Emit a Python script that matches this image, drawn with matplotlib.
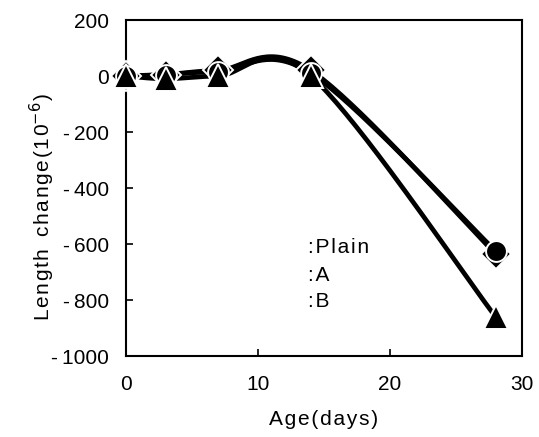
import numpy as np
import matplotlib
matplotlib.use("Agg")
import matplotlib.pyplot as plt

# Length change of specimens vs. age
age = [0, 3, 7, 14, 28]
plain = [0, 5, 20, 20, -635]
mix_a = [0, 5, 15, 10, -625]
mix_b = [0, -10, 0, 0, -860]

x_ticks = [0, 10, 20, 30]
y_ticks = [200, 0, -200, -400, -600, -800, -1000]
y_tick_labels = ['200', '0', '-\u2009200', '-\u2009400', '-\u2009600',
                 '-\u2009800', '-\u20091000']

legend_labels = [':Plain', ':A', ':B']
legend_y = [-611, -711, -807]

HAIR = '\u200a'


def spaced(s):
    # loose letter spacing
    return HAIR.join(s)


def smooth(xs, ys, n=40):
    # Bezier smoothing through the points (tension 1/6, like spreadsheet smoothed lines)
    p = np.column_stack([xs, ys]).astype(float)
    out = []
    for i in range(len(p) - 1):
        p0 = p[i]
        p3 = p[i + 1]
        prev = p[i - 1] if i > 0 else p[i]
        nxt = p[i + 2] if i + 2 < len(p) else p[i + 1]
        c1 = p0 + (p3 - prev) / 6
        c2 = p3 - (nxt - p0) / 6
        t = np.linspace(0, 1, n)[:, None]
        seg = ((1 - t) ** 3 * p0 + 3 * (1 - t) ** 2 * t * c1
               + 3 * (1 - t) * t ** 2 * c2 + t ** 3 * p3)
        out.append(seg if i == 0 else seg[1:])
    out = np.vstack(out)
    return out[:, 0], out[:, 1]


plt.rcParams['font.family'] = ['Liberation Sans', 'DejaVu Sans']
plt.rcParams['axes.unicode_minus'] = False

fig = plt.figure(figsize=(5.39, 4.37), dpi=100)
ax = fig.add_axes([126 / 539, 1 - 356 / 437, 396 / 539, 336 / 437])

series = [(plain, 'D', 15.5), (mix_a, 'o', 15), (mix_b, '^', 17)]
for vals, mk, ms in series:
    sx, sy = smooth(age, vals)
    ax.plot(sx, sy, color='black', lw=3.4, solid_capstyle='butt', zorder=2)
for vals, mk, ms in series:
    ax.plot(age, vals, linestyle='none', marker=mk, markersize=ms,
            markerfacecolor='black', markeredgecolor='white',
            markeredgewidth=1.4, zorder=3, clip_on=False)

ax.set_xlim(0, 30)
ax.set_ylim(-1000, 200)
ax.set_xticks(x_ticks)
ax.set_yticks(y_ticks)
ax.set_yticklabels(y_tick_labels)
ax.tick_params(direction='in', length=5, width=1.2, labelsize=15,
               colors='black')
ax.tick_params(axis='x', pad=14)
ax.tick_params(axis='y', pad=12)
for s in ax.spines.values():
    s.set_linewidth(1.5)

ax.set_xlabel(spaced('Age(days)'), fontsize=15, labelpad=11)
ax.set_ylabel(spaced('Length') + '  ' + spaced('change(10') + '$^{-6}$' + HAIR + ')',
              fontsize=15)
ax.yaxis.set_label_coords(-0.175, 0.443)

for lbl, yv in zip(legend_labels, legend_y):
    ax.text(13.8, yv, spaced(lbl), fontsize=15, va='center', ha='left')

fig.savefig('out.png', dpi=100)
